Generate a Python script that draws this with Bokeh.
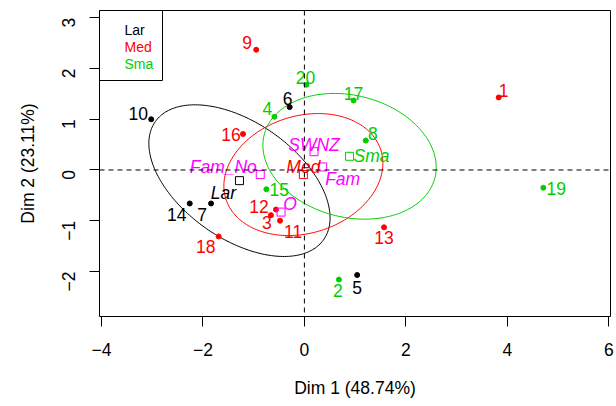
import numpy as np
from bokeh.plotting import figure
from bokeh.models import (ColumnDataSource, Range1d, FixedTicker, Span, Label,
                          BoxAnnotation)
from bokeh.core.properties import value
from bokeh.embed import file_html
from bokeh.resources import INLINE

# ---------------- data ----------------
ind_labels = ["1", "2", "3", "4", "5", "6", "7", "8", "9", "10",
              "11", "12", "13", "14", "15", "16", "17", "18", "19", "20"]
ind_x = [3.83, 0.68, -0.66, -0.59, 1.04, -0.29, -1.84, 1.21, -0.95, -3.02,
         -0.48, -0.56, 1.57, -2.26, -0.75, -1.21, 0.97, -1.69, 4.71, 0.04]
ind_y = [1.43, -2.16, -0.89, 1.05, -2.07, 1.24, -0.66, 0.58, 2.37, 1.00,
         -1.00, -0.78, -1.13, -0.66, -0.38, 0.71, 1.37, -1.31, -0.35, 1.68]
ind_group = ["Med", "Sma", "Med", "Sma", "Lar", "Lar", "Lar", "Sma", "Med", "Lar",
             "Med", "Med", "Med", "Lar", "Sma", "Med", "Sma", "Med", "Sma", "Sma"]

cat_labels = ["Lar", "Med", "Sma", "Fam_No", "O", "SWNZ", "Fam"]
cat_x = [-1.28, -0.02, 0.89, -0.87, -0.46, 0.19, 0.36]
cat_y = [-0.21, -0.09, 0.27, -0.09, -0.83, 0.36, 0.06]

groups = ["Lar", "Med", "Sma"]
# confidence ellipses: centre and covariance-like terms (sxx, syy, sxy)
ell_cx = [-1.28, -0.02, 0.89]
ell_cy = [-0.21, -0.09, 0.27]
ell_sxx = [3.19, 2.456, 2.918]
ell_syy = [2.235, 1.446, 1.535]
ell_sxy = [-1.31, 0.35, -0.37]

x_ticks = [-4, -2, 0, 2, 4, 6]
y_ticks = [-2, -1, 0, 1, 2, 3]
x_title = "Dim 1 (48.74%)"
y_title = "Dim 2 (23.11%)"

# ---------------- styles ----------------
FONT = "Liberation Sans"
FS = "17.5px"
LEG_FS = "14px"
group_color = {"Lar": "#000000", "Med": "#FF0000", "Sma": "#00CD00"}
cat_color = ["#000000", "#FF0000", "#00CD00", "#FF00FF", "#FF00FF", "#FF00FF", "#FF00FF"]
# label offsets in pixels (autoLab placement), dx right, dy down
ind_dx = [5, -1, -4, -7, 0, -2, -9, 7, -9, -13, 13, -17, 0, -13, 13, -12, 0, -13, 13, -1]
ind_dy = [-7, 11, 7, -8, 12, -9, 11, -7, -7, -6, 11, -3, 10, 11, 0, 1, -7, 10, 1, -7]
cat_dx = [-16, 0, 22, -37, 9, 0, 20]
cat_dy = [12, -8, 0, -8, -8, -7, 12]

p = figure(width=616, height=406, output_backend="svg", toolbar_location=None,
           x_range=Range1d(-4.039, 6.034), y_range=Range1d(-2.888, 3.144),
           min_border_left=99, min_border_right=6, min_border_top=10,
           min_border_bottom=90)
p.grid.visible = False
p.outline_line_color = "#000000"
p.outline_line_width = 1
p.background_fill_color = "white"
p.border_fill_color = "white"

for ax, ticks in ((p.xaxis[0], x_ticks), (p.yaxis[0], y_ticks)):
    ax.ticker = FixedTicker(ticks=ticks)
    ax.axis_line_color = None
    ax.major_tick_in = 0
    ax.major_tick_out = 10
    ax.major_tick_line_color = "#000000"
    ax.minor_tick_line_color = None
    ax.major_label_text_font = FONT
    ax.major_label_text_font_size = FS
    ax.major_label_text_color = "#000000"
    ax.axis_label_text_font = FONT
    ax.axis_label_text_font_size = FS
    ax.axis_label_text_font_style = "normal"
    ax.axis_label_text_color = "#000000"

p.xaxis[0].axis_label = x_title
p.yaxis[0].axis_label = y_title
p.xaxis[0].major_label_standoff = 16
p.xaxis[0].axis_label_standoff = 19
p.yaxis[0].major_label_orientation = np.pi / 2
p.yaxis[0].major_label_standoff = 21
p.yaxis[0].axis_label_standoff = 15

# dashed origin lines
p.add_layout(Span(location=0, dimension="height", line_color="black",
                  line_dash="5 4", line_width=1))
p.add_layout(Span(location=0, dimension="width", line_color="black",
                  line_dash="5 4", line_width=1))

# ellipses
t = np.linspace(0, 2 * np.pi, 240)
for g, cx, cy, sxx, syy, sxy in zip(groups, ell_cx, ell_cy, ell_sxx, ell_syy, ell_sxy):
    L = np.linalg.cholesky(np.array([[sxx, sxy], [sxy, syy]]))
    pts = L @ np.vstack([np.cos(t), np.sin(t)])
    p.line(cx + pts[0], cy + pts[1], line_color=group_color[g], line_width=1)

# individuals
ind_src = ColumnDataSource(dict(x=ind_x, y=ind_y, lab=ind_labels,
                                col=[group_color[g] for g in ind_group],
                                dx=ind_dx, dy=ind_dy))
p.scatter("x", "y", source=ind_src, size=5, color="col", line_color="col")
p.text("x", "y", text="lab", source=ind_src, x_offset="dx", y_offset="dy",
       text_color="col", text_align="center", text_baseline="middle",
       text_font=value(FONT), text_font_size=FS)

# categories
cat_src = ColumnDataSource(dict(x=cat_x, y=cat_y, lab=cat_labels, col=cat_color,
                                dx=cat_dx, dy=cat_dy))
p.scatter("x", "y", source=cat_src, marker="square", size=8, fill_color=None,
          line_color="col", line_width=1)
p.text("x", "y", text="lab", source=cat_src, x_offset="dx", y_offset="dy",
       text_color="col", text_align="center", text_baseline="middle",
       text_font=value(FONT), text_font_size=FS, text_font_style="italic")

# legend (text only, boxed, top-left of plot region)
p.add_layout(BoxAnnotation(left=99, right=162, top=10, bottom=80,
                           left_units="canvas", right_units="canvas",
                           top_units="canvas", bottom_units="canvas",
                           fill_color=None, line_color="black", line_width=1,
                           line_alpha=1))
for i, g in enumerate(groups):
    p.add_layout(Label(x=124, y=29 + 17 * i, x_units="canvas", y_units="canvas",
                       text=g, text_color=group_color[g], text_font=FONT,
                       text_font_size=LEG_FS, text_baseline="middle",
                       text_align="left"))

open("out.html", "w").write(file_html(p, INLINE))
